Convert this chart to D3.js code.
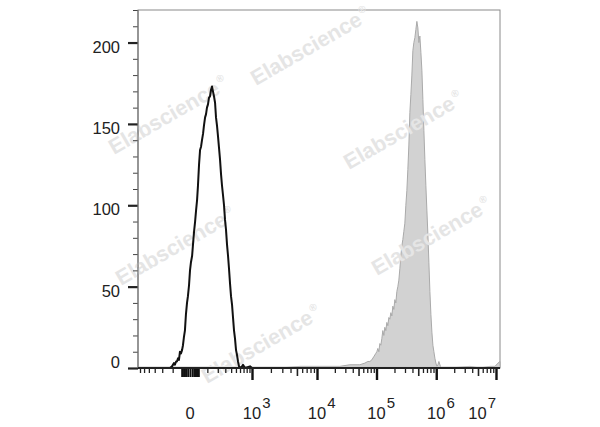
<!DOCTYPE html>
<html><head><meta charset="utf-8">
<script src="https://cdn.jsdelivr.net/npm/d3@7"></script>
<style>
html,body{margin:0;padding:0;background:#fff;}
svg{display:block;font-family:"Liberation Sans",Arial,Helvetica,sans-serif;}
</style>
</head><body>
<svg id="chart" width="600" height="427"></svg>
<script>
// ---------------- DATA ----------------
// Isotype / unstained control (black outline): fluorescence value, event count
const controlX = [-122,-105,-90,-83,-75,-69,-62,-56,-50,-44,-38,-33,-28,-23,-18,-13,-9,-4,0,4,9,13,18,23,28,33,38,44,50,56,62,69,75,83,90,97,105,113,122,131,140,149,159,170,180,191,203,215,227,240,253,267,281,296,311,327,344,361,379,398,417,437,458,479,502,525,549,574,627,684,746,921,1001,1388];
const controlCount = [0,1,3,2,4,4,6,5,10,9,11,14,19,23,33,40,44,51,60,65,69,76,84,90,97,103,112,125,134,136,140,144,149,154,156,160,162,166,167,171,173,170,167,163,154,149,142,135,128,119,112,106,100,91,85,76,69,61,52,44,39,31,23,18,11,8,4,1,0,2,0,1,0,0];
// Stained sample (grey filled)
const stainedX = [2765,5563,11230,24290,35730,52560,63740,71550,77300,83500,90230,97450,101300,105300,109400,113700,118200,122800,127700,132700,137900,143300,149000,154800,160900,167200,173800,180700,187800,195100,202900,210800,219100,227700,236700,246000,255700,265700,276200,287100,298400,310100,322300,335000,348200,361900,376200,390900,406300,422300,438900,456200,474100,492800,512100,532300,553400,575000,597700,621200,645700,671200,697500,725000,753400,783200,814100,846000,879400,913700,949700,987200,1026000,1066000,1108000,1152000,1197000,1694000,3666000,5393000,7933000,9620000,10800000,11670000];
const stainedCount = [0,1,1,1,2,2,3,4,4,5,7,9,10,12,10,15,14,18,23,20,25,23,28,26,31,30,34,32,38,36,42,40,47,50,54,61,69,75,79,84,89,100,109,122,137,157,168,180,195,200,203,208,213,209,200,204,194,183,165,146,128,112,97,82,65,47,33,22,14,10,6,3,1,2,4,2,0,0,1,0,1,1,3,4];
// Axes
const yMajorTicks = [0,50,100,150,200];
const yMinorTicks = [10,20,30,40,60,70,80,90,110,120,130,140,160,170,180,190,210,220];
const xMajorTicks = [1e3,1e4,1e5,1e6,1e7];
const xMediumTicks = [5e3,5e4,5e5,5e6];
const xMinorTicks = [-600,-500,-400,-300,-200,-100,100,200,300,400,500,600,700,800,900,
  2e3,3e3,4e3,6e3,7e3,8e3,9e3,2e4,3e4,4e4,6e4,7e4,8e4,9e4,2e5,3e5,4e5,6e5,7e5,8e5,9e5,2e6,3e6,4e6,6e6,7e6,8e6,9e6];
const xZeroTicks = [-40,-30,-20,-10,0,10,20,30,40];
const xLabelValues = [0,1e3,1e4,1e5,1e6,1e7];
const xLabelExponents = ["",'3','4','5','6','7'];
const watermarkText = "Elabscience";

// ---------------- LAYOUT ----------------
(function(){
const mLeft = 138, mRight = 500, mTop = 10, mBottom = 368;
const svg = d3.select("#chart");

// biexponential-like x scale: symlog transform + piecewise linear
const C = 110;
const T = v => Math.sign(v) * Math.log1p(Math.abs(v) / C);
const xLin = d3.scaleLinear()
  .domain([T(-655), T(1e3), T(1e4), T(1.167e7)])
  .range([mLeft, 252, 317, mRight]);
function makeX(){
  const s = v => xLin(T(v));
  s.domain = () => [-655, 1.167e7];
  s.range = () => [mLeft, mRight];
  s.copy = () => makeX();
  return s;
}
const x = makeX();
const y = d3.scaleLinear().domain([0, 220]).range([mBottom, mTop]);

// frame
svg.append("rect").attr("x", mLeft).attr("y", mTop).attr("width", mRight-mLeft).attr("height", mBottom-mTop)
  .attr("fill", "none").attr("stroke", "#8a8a8a").attr("stroke-width", 1);

// stained (grey filled)
const stained = stainedX.map((v,i)=>({v, c: stainedCount[i]}));
svg.append("path").datum(stained)
  .attr("d", d3.area().x(d=>x(d.v)).y0(y(0)).y1(d=>y(d.c)))
  .attr("fill", "#d2d2d2").attr("stroke", "#aaaaaa").attr("stroke-width", 1);
svg.append("line").attr("x1", mLeft).attr("x2", mRight).attr("y1", y(0)-1).attr("y2", y(0)-1)
  .attr("stroke", "#c8c8c8").attr("stroke-width", 1);

// watermarks
const wm = [[256,86],[114,155],[349,170],[121,286],[377,276],[207,384]];
wm.forEach(([wx,wy])=>{
  const t = svg.append("text").attr("transform", `translate(${wx},${wy}) rotate(-30)`)
    .attr("font-size", 21.5).attr("font-weight", "bold").attr("fill", "#e5e5e5");
  t.append("tspan").text(watermarkText);
  t.append("tspan").attr("font-size", 10).attr("dy", -10).attr("dx", 2).text("®");
});

// control (black outline)
const control = controlX.map((v,i)=>({v, c: controlCount[i]}));
svg.append("path").datum(control)
  .attr("d", d3.line().x(d=>x(d.v)).y(d=>y(d.c)))
  .attr("fill", "none").attr("stroke", "#111").attr("stroke-width", 2).attr("stroke-linejoin", "round");

// ---------- y axis ----------
const yAxisG = svg.append("g").attr("transform", `translate(${mLeft},0)`);
yAxisG.call(d3.axisLeft(y).tickValues(yMinorTicks).tickSize(5).tickFormat(""))
  .call(g=>g.select(".domain").remove())
  .call(g=>g.selectAll("line").attr("stroke", "#444").attr("stroke-width", 1));
const yMaj = svg.append("g").attr("transform", `translate(${mLeft},0)`)
  .call(d3.axisLeft(y).tickValues(yMajorTicks).tickSize(10).tickPadding(8));
yMaj.select(".domain").remove();
yMaj.selectAll("line").attr("stroke", "#222").attr("stroke-width", 2.2);
yMaj.selectAll("text").attr("font-size", 16.5).attr("fill", "#222").attr("font-family", null)
  .attr("dy", d => d === 0 ? "-0.05em" : "0.58em");
svg.append("line").attr("x1", mLeft).attr("x2", mLeft).attr("y1", mTop).attr("y2", mBottom)
  .attr("stroke", "#777").attr("stroke-width", 1.2);

// ---------- x axis ----------
function xTicks(vals, size, width, color){
  const g = svg.append("g").attr("transform", `translate(0,${mBottom})`)
    .call(d3.axisBottom(x).tickValues(vals).tickSize(size).tickFormat(""));
  g.select(".domain").remove();
  g.selectAll("line").attr("stroke", color).attr("stroke-width", width);
}
xTicks(xMinorTicks, 5, 1.3, "#222");
xTicks(xMediumTicks, 8, 1.6, "#222");
xTicks(xZeroTicks, 9, 2, "#111");
xTicks(xMajorTicks, 12, 2.4, "#111");
svg.append("line").attr("x1", mLeft).attr("x2", mRight).attr("y1", mBottom).attr("y2", mBottom)
  .attr("stroke", "#222").attr("stroke-width", 2);

// x labels
xLabelValues.forEach((v,i)=>{
  const t = svg.append("text").attr("y", 419).attr("font-size", 16.5).attr("fill", "#222");
  if (xLabelExponents[i] === "") {
    t.attr("x", x(v)).attr("text-anchor", "middle").text("0");
    return;
  }
  t.append("tspan").text("10");
  t.append("tspan").attr("font-size", 15).attr("dy", -11).attr("dx", 1).text(xLabelExponents[i]);
  const baseW = 18.4;
  let sx = x(v) - baseW/2;
  const w = t.node().getComputedTextLength() + 1;
  if (sx + w > mRight - 4) sx = mRight - 4 - w;
  t.attr("x", sx);
});
})();
</script>
</body></html>
